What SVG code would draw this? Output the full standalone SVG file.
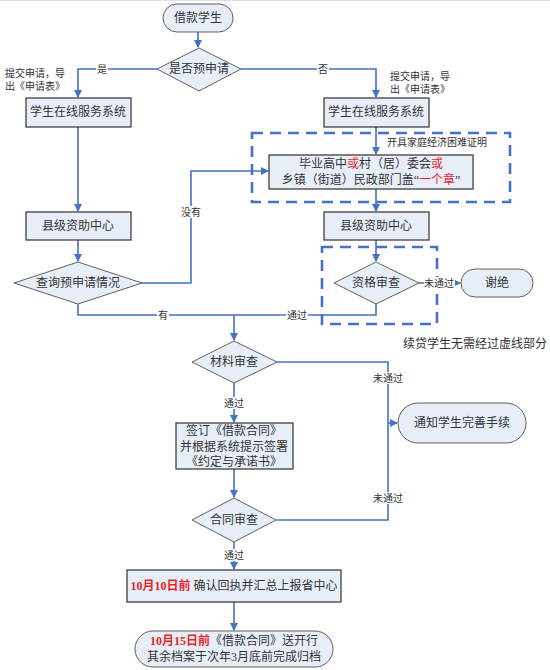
<svg xmlns="http://www.w3.org/2000/svg" width="550" height="670" viewBox="0 0 550 670">
<style>
.bx{fill:#e8eef8;stroke:#404040;stroke-width:1.3}
.sh{fill:#e8eef8;stroke:#606060;stroke-width:1}
.c{fill:none;stroke:#4472c4;stroke-width:1.6}
.dash{fill:none;stroke:#4472c4;stroke-width:2.6;stroke-dasharray:11,7}
text{font-family:"Liberation Serif","Noto Sans CJK SC",serif;fill:#333}
.t{font-size:12px;text-anchor:middle}
.l{font-size:10px;text-anchor:middle}
.ll{font-size:10px}
.r{fill:#e8262a}
.rb{fill:#e8262a;font-weight:bold}
.lb{fill:#fff;stroke:none}
</style>
<defs>
<marker id="a" markerWidth="8" markerHeight="8" refX="7" refY="4" orient="auto" markerUnits="userSpaceOnUse">
<path d="M0,0 L8,4 L0,8 Z" fill="#4472c4"/>
</marker>
</defs>
<rect x="0" y="0" width="550" height="670" fill="#fff"/>
<line x1="0" y1="0.5" x2="550" y2="0.5" stroke="#e0e0e0" stroke-width="1"/>

<g id="dashed-areas">
<rect class="dash" x="252" y="133" width="258" height="69"/>
<rect class="dash" x="322" y="247" width="115" height="77"/>
</g>

<g id="connectors">
<path class="c" d="M198,32 V47" marker-end="url(#a)"/>
<path class="c" d="M157,69 H78 V97" marker-end="url(#a)"/>
<path class="c" d="M241,69 H376 V97" marker-end="url(#a)"/>
<path class="c" d="M376,127 V154" marker-end="url(#a)"/>
<path class="c" d="M376,189 V211" marker-end="url(#a)"/>
<path class="c" d="M376,240 V261" marker-end="url(#a)"/>
<path class="c" d="M419,283 H460" marker-end="url(#a)"/>
<path class="c" d="M376,304 V315 H78 V304"/>
<path class="c" d="M78,127 V211" marker-end="url(#a)"/>
<path class="c" d="M78,240 V261" marker-end="url(#a)"/>
<path class="c" d="M142,283 H191 V171 H268" marker-end="url(#a)"/>
<path class="c" d="M234,315 V340" marker-end="url(#a)"/>
<path class="c" d="M277,362 H388 V520 H276"/>
<path class="c" d="M388,423 H397" marker-end="url(#a)"/>
<path class="c" d="M234,383 V422" marker-end="url(#a)"/>
<path class="c" d="M234,469 V497" marker-end="url(#a)"/>
<path class="c" d="M234,542 V569" marker-end="url(#a)"/>
<path class="c" d="M234,602 V630" marker-end="url(#a)"/>
</g>

<g id="connector-labels">
<rect class="lb" x="96" y="63" width="12" height="12"/><text class="l" x="102" y="73">是</text>
<rect class="lb" x="317" y="63" width="12" height="12"/><text class="l" x="323" y="73">否</text>
<rect class="lb" x="181" y="206" width="21" height="12"/><text class="l" x="191" y="216">没有</text>
<rect class="lb" x="157" y="309" width="12" height="12"/><text class="l" x="163" y="319">有</text>
<rect class="lb" x="286" y="309" width="22" height="12"/><text class="l" x="297" y="319">通过</text>
<rect class="lb" x="424" y="277" width="31" height="12"/><text class="l" x="439" y="287">未通过</text>
<rect class="lb" x="373" y="372" width="31" height="12"/><text class="l" x="388" y="382">未通过</text>
<rect class="lb" x="373" y="492" width="31" height="12"/><text class="l" x="388" y="502">未通过</text>
<rect class="lb" x="223" y="397" width="22" height="12"/><text class="l" x="234" y="407">通过</text>
<rect class="lb" x="223" y="549" width="22" height="12"/><text class="l" x="234" y="559">通过</text>
<text class="ll" x="5" y="77">提交申请，导</text>
<text class="ll" x="5" y="90">出《申请表》</text>
<text class="ll" x="390" y="80">提交申请，导</text>
<text class="ll" x="390" y="93">出《申请表》</text>
<text class="ll" x="387" y="146">开具家庭经济困难证明</text>
<text x="403" y="348" style="font-size:12px">续贷学生无需经过虚线部分</text>
</g>

<g id="n-start">
<rect class="sh" x="163" y="4" width="70" height="28" rx="14"/>
<text class="t" x="198" y="22">借款学生</text>
</g>
<g id="n-pre">
<polygon class="sh" points="199,48 241,69 199,91 157,69"/>
<text class="t" x="199" y="73">是否预申请</text>
</g>
<g id="n-sys-left">
<rect class="bx" x="26" y="98" width="105" height="29"/>
<text class="t" x="78" y="116">学生在线服务系统</text>
</g>
<g id="n-sys-right">
<rect class="bx" x="324" y="98" width="105" height="29"/>
<text class="t" x="376" y="116">学生在线服务系统</text>
</g>
<g id="n-proof">
<rect class="bx" x="269" y="155" width="204" height="34"/>
<text class="t" x="371" y="168">毕业高中<tspan class="r">或</tspan>村（居）委会<tspan class="r">或</tspan></text>
<text class="t" x="371" y="184">乡镇（街道）民政部门盖“<tspan class="r">一个章</tspan>”</text>
</g>
<g id="n-county-right">
<rect class="bx" x="324" y="212" width="105" height="28"/>
<text class="t" x="376" y="230">县级资助中心</text>
</g>
<g id="n-qual">
<polygon class="sh" points="376,262 419,283 376,304 334,283"/>
<text class="t" x="376" y="287">资格审查</text>
</g>
<g id="n-reject">
<rect class="sh" x="461" y="269" width="72" height="28" rx="14"/>
<text class="t" x="497" y="287">谢绝</text>
</g>
<g id="n-county-left">
<rect class="bx" x="26" y="212" width="105" height="28"/>
<text class="t" x="78" y="230">县级资助中心</text>
</g>
<g id="n-query">
<polygon class="sh" points="78,262 142,283 78,304 14,283"/>
<text class="t" x="78" y="287">查询预申请情况</text>
</g>
<g id="n-material">
<polygon class="sh" points="234,341 277,362 234,383 192,362"/>
<text class="t" x="234" y="366">材料审查</text>
</g>
<g id="n-notify">
<rect class="sh" x="398" y="403" width="128" height="40" rx="20"/>
<text class="t" x="462" y="427">通知学生完善手续</text>
</g>
<g id="n-sign">
<rect class="bx" x="176" y="423" width="117" height="46"/>
<text class="t" x="234" y="435">签订《借款合同》</text>
<text class="t" x="234" y="451">并根据系统提示签署</text>
<text class="t" x="234" y="466">《约定与承诺书》</text>
</g>
<g id="n-contract">
<polygon class="sh" points="234,498 276,520 234,542 192,520"/>
<text class="t" x="234" y="524">合同审查</text>
</g>
<g id="n-confirm">
<rect class="bx" x="127" y="570" width="214" height="32"/>
<text class="t" x="234" y="590"><tspan class="rb">10月10日前</tspan> 确认回执并汇总上报省中心</text>
</g>
<g id="n-archive">
<rect class="sh" x="135" y="631" width="198" height="36" rx="18"/>
<text class="t" x="234" y="645"><tspan class="rb">10月15日前</tspan>《借款合同》送开行</text>
<text class="t" x="234" y="661">其余档案于次年3月底前完成归档</text>
</g>
</svg>
